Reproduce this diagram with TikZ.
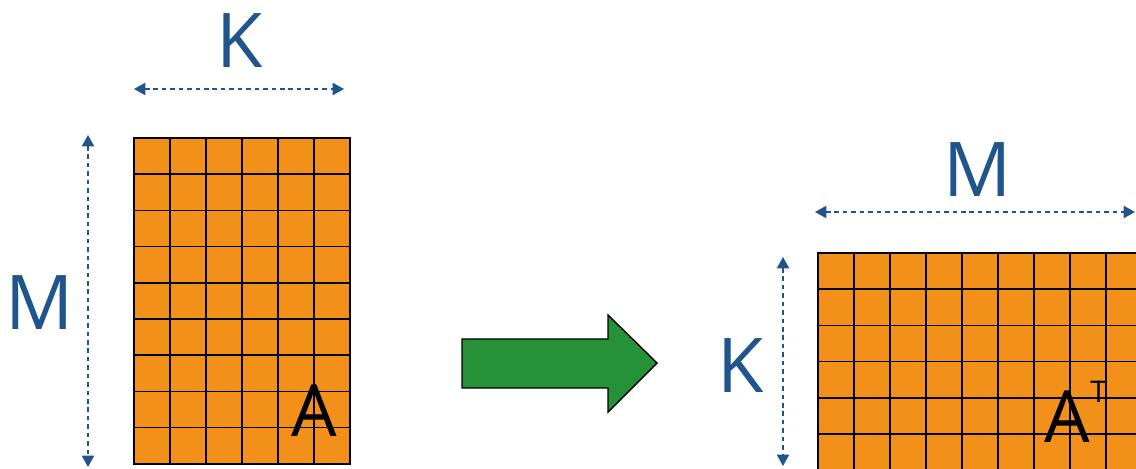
\documentclass[tikz,border=0pt]{standalone}
\usepackage{fontspec}
\setsansfont{Open Sans}
\usetikzlibrary{arrows.meta}

\definecolor{dimblue}{RGB}{31,84,140}
\definecolor{cellorange}{RGB}{243,144,25}
\definecolor{arrowgreen}{RGB}{37,145,57}

\begin{document}
\begin{tikzpicture}[x=0.02cm,y=-0.02cm]
      \tikzstyle{cell} = [draw=black,fill=cellorange,line width=0.95pt]
      \tikzstyle{dim} = [dimblue,line width=0.9pt,dash pattern=on 2.6pt off 2.2pt,
        {Triangle[length=6.5pt,width=7pt]}-{Triangle[length=6.5pt,width=7pt]}]
      \tikzstyle{dimlabel} = [text=dimblue,inner sep=0pt,font=\sffamily\fontsize{43}{43}\selectfont]
      \tikzstyle{matname} = [text=black,inner sep=0pt,font=\sffamily\fontsize{41}{41}\selectfont]

      \useasboundingbox (0,0) rectangle (1136,469);
      \clip (0,0) rectangle (1136,469);

      % A: 6 columns, 9 rows
      \foreach \c in {0,...,5}
        \foreach \r in {0,...,8}
          \draw[cell] (134+36*\c,138+36.2*\r) rectangle ++(36,36.2);

      % A^T: 9 columns, 6 rows (runs off the page)
      \foreach \c in {0,...,8}
        \foreach \r in {0,...,5}
          \draw[cell] (818+36*\c,253+36.2*\r) rectangle ++(36,36.2);

      \node[matname](a) at (314,411) {A};
      \node[matname](at) at (1067,417) {A};
      \node[inner sep=0pt,font=\sffamily\fontsize{17}{17}\selectfont,anchor=west](t) at (1090,392) {T};

      % dimensions
      \coordinate (kl) at (134,89);
      \coordinate (kr) at (344,89);
      \coordinate (mt) at (88,135);
      \coordinate (mb) at (88,467);
      \coordinate (ml) at (815,212);
      \coordinate (mr) at (1135,212);
      \coordinate (kt) at (783,257);
      \coordinate (kb) at (783,466);

      \node[dimlabel](k1) at (240,41) {K};
      \node[dimlabel](m1) at (40,303) {M};
      \node[dimlabel](m2) at (978,170) {M};
      \node[dimlabel](k2) at (741,366) {K};

      \draw[dim] (kl) -- (kr);
      \draw[dim] (mt) -- (mb);
      \draw[dim] (ml) -- (mr);
      \draw[dim] (kt) -- (kb);

      % transpose arrow
      \draw[fill=arrowgreen,line width=0.8pt,line join=miter]
        (462,339) -- (608,339) -- (608,315) -- (657,363) -- (608,412) -- (608,388) -- (462,388) -- cycle;

    \end{tikzpicture}
\end{document}
